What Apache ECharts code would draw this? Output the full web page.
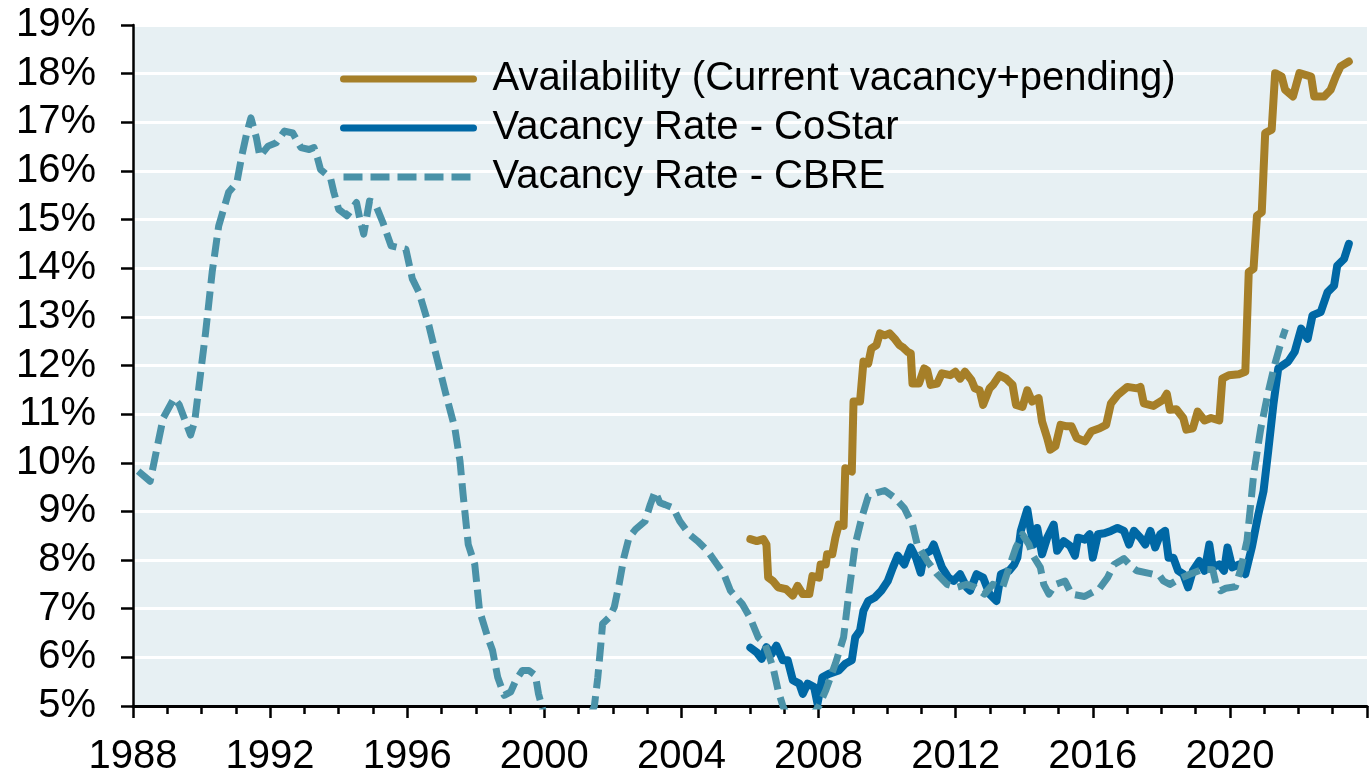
<!DOCTYPE html>
<html>
<head>
<meta charset="utf-8">
<script src="https://cdn.jsdelivr.net/npm/echarts@6/dist/echarts.min.js"></script>
<style>
  html, body { margin: 0; padding: 0; background: #fff; }
  #main { width: 1370px; height: 777px; }
</style>
</head>
<body>
<div id="main"></div>
<script>
// 数据 (读图估计, 年份为小数年)
const availYears = [2006.01, 2006.2, 2006.39, 2006.48, 2006.53, 2006.67, 2006.82, 2007.06, 2007.25, 2007.39, 2007.54, 2007.73, 2007.82, 2008.01, 2008.06, 2008.21, 2008.25, 2008.4, 2008.49, 2008.59, 2008.73, 2008.78, 2008.97, 2009.02, 2009.21, 2009.31, 2009.45, 2009.54, 2009.69, 2009.79, 2009.93, 2010.07, 2010.22, 2010.36, 2010.45, 2010.6, 2010.69, 2010.74, 2010.93, 2011.08, 2011.17, 2011.27, 2011.46, 2011.6, 2011.84, 2011.99, 2012.13, 2012.27, 2012.46, 2012.56, 2012.7, 2012.8, 2012.99, 2013.09, 2013.28, 2013.47, 2013.66, 2013.76, 2013.95, 2014.09, 2014.23, 2014.42, 2014.52, 2014.67, 2014.76, 2014.91, 2015.06, 2015.24, 2015.38, 2015.53, 2015.77, 2015.96, 2016.2, 2016.39, 2016.53, 2016.72, 2017.01, 2017.29, 2017.39, 2017.49, 2017.77, 2018.06, 2018.16, 2018.25, 2018.44, 2018.64, 2018.73, 2018.92, 2019.06, 2019.26, 2019.45, 2019.69, 2019.78, 2019.97, 2020.26, 2020.45, 2020.55, 2020.69, 2020.79, 2020.93, 2021.03, 2021.22, 2021.32, 2021.51, 2021.61, 2021.84, 2022.03, 2022.37, 2022.46, 2022.75, 2022.94, 2023.09, 2023.23, 2023.47]
const availRates = [8.43, 8.39, 8.43, 8.32, 7.64, 7.57, 7.44, 7.4, 7.27, 7.47, 7.3, 7.3, 7.67, 7.64, 7.91, 7.91, 8.12, 8.12, 8.46, 8.73, 8.7, 9.89, 9.82, 11.26, 11.26, 12.08, 12.04, 12.35, 12.42, 12.66, 12.62, 12.66, 12.55, 12.42, 12.38, 12.28, 12.25, 11.63, 11.63, 11.94, 11.9, 11.6, 11.63, 11.84, 11.8, 11.87, 11.73, 11.87, 11.7, 11.53, 11.49, 11.19, 11.53, 11.6, 11.8, 11.73, 11.6, 11.19, 11.15, 11.49, 11.26, 11.33, 10.85, 10.51, 10.27, 10.34, 10.78, 10.75, 10.75, 10.51, 10.44, 10.65, 10.71, 10.78, 11.22, 11.39, 11.56, 11.53, 11.56, 11.22, 11.17, 11.3, 11.42, 11.09, 11.1, 10.92, 10.68, 10.71, 11.05, 10.87, 10.92, 10.87, 11.73, 11.8, 11.82, 11.87, 13.92, 13.99, 15.08, 15.15, 16.78, 16.85, 18.01, 17.94, 17.67, 17.53, 18.01, 17.94, 17.53, 17.53, 17.67, 17.94, 18.15, 18.25]

const costarYears = [2006.01, 2006.2, 2006.34, 2006.48, 2006.63, 2006.77, 2006.96, 2007.1, 2007.25, 2007.44, 2007.54, 2007.68, 2007.87, 2007.97, 2008.11, 2008.3, 2008.59, 2008.78, 2008.97, 2009.07, 2009.21, 2009.31, 2009.45, 2009.64, 2009.83, 2010.02, 2010.17, 2010.31, 2010.5, 2010.69, 2010.84, 2010.98, 2011.08, 2011.27, 2011.36, 2011.46, 2011.6, 2011.79, 2011.94, 2012.13, 2012.32, 2012.42, 2012.61, 2012.8, 2012.99, 2013.19, 2013.32, 2013.56, 2013.71, 2013.8, 2013.9, 2014.09, 2014.19, 2014.28, 2014.38, 2014.52, 2014.67, 2014.86, 2014.96, 2015.15, 2015.34, 2015.48, 2015.57, 2015.77, 2015.91, 2016.0, 2016.15, 2016.34, 2016.53, 2016.72, 2016.91, 2017.06, 2017.2, 2017.39, 2017.53, 2017.68, 2017.82, 2017.97, 2018.11, 2018.21, 2018.35, 2018.49, 2018.64, 2018.78, 2018.92, 2019.11, 2019.26, 2019.4, 2019.5, 2019.69, 2019.83, 2019.93, 2020.07, 2020.27, 2020.45, 2020.64, 2020.83, 2020.98, 2021.12, 2021.27, 2021.41, 2021.7, 2021.89, 2022.08, 2022.27, 2022.41, 2022.65, 2022.85, 2023.04, 2023.13, 2023.33, 2023.47]
const costarRates = [6.2, 6.1, 5.97, 6.21, 6.07, 6.24, 5.94, 5.94, 5.53, 5.46, 5.25, 5.46, 5.39, 5.05, 5.59, 5.66, 5.73, 5.87, 5.94, 6.41, 6.55, 6.96, 7.16, 7.23, 7.37, 7.57, 7.85, 8.09, 7.91, 8.26, 8.05, 7.74, 8.12, 8.19, 8.32, 8.12, 7.85, 7.64, 7.57, 7.71, 7.44, 7.37, 7.71, 7.64, 7.3, 7.16, 7.71, 7.78, 7.91, 8.05, 8.6, 9.04, 8.6, 8.32, 8.66, 8.12, 8.46, 8.73, 8.19, 8.39, 8.29, 8.09, 8.46, 8.42, 8.53, 8.05, 8.53, 8.55, 8.6, 8.66, 8.6, 8.32, 8.6, 8.46, 8.32, 8.6, 8.26, 8.53, 8.6, 8.05, 8.05, 7.78, 7.71, 7.44, 7.78, 7.98, 7.78, 8.32, 7.85, 7.91, 7.78, 8.26, 7.85, 7.91, 7.71, 8.26, 8.94, 9.41, 10.25, 11.2, 11.94, 12.08, 12.28, 12.76, 12.55, 13.03, 13.1, 13.51, 13.64, 14.05, 14.19, 14.5]

const cbreYears = [1988.15, 1988.5, 1988.6, 1988.88, 1989.2, 1989.35, 1989.68, 1989.8, 1989.93, 1990.12, 1990.31, 1990.5, 1990.79, 1991.03, 1991.17, 1991.32, 1991.44, 1991.6, 1991.7, 1991.94, 1992.18, 1992.42, 1992.66, 1992.9, 1993.14, 1993.28, 1993.38, 1993.47, 1993.76, 1993.86, 1994.0, 1994.24, 1994.52, 1994.62, 1994.73, 1994.9, 1995.05, 1995.29, 1995.53, 1995.96, 1996.15, 1996.34, 1996.63, 1996.82, 1997.11, 1997.39, 1997.54, 1997.63, 1997.78, 1997.97, 1998.11, 1998.35, 1998.49, 1998.64, 1998.83, 1999.02, 1999.17, 1999.36, 1999.55, 1999.74, 1999.83, 2000.0, 2000.3, 2000.6, 2000.9, 2001.2, 2001.46, 2001.56, 2001.65, 2001.7, 2001.89, 2002.04, 2002.18, 2002.32, 2002.47, 2002.66, 2002.94, 2003.09, 2003.23, 2003.37, 2003.52, 2003.76, 2003.95, 2004.23, 2004.47, 2004.76, 2005.0, 2005.24, 2005.43, 2005.77, 2006.0, 2006.24, 2006.43, 2006.67, 2006.82, 2006.96, 2007.2, 2007.5, 2007.8, 2008.01, 2008.21, 2008.49, 2008.73, 2008.88, 2009.07, 2009.26, 2009.45, 2009.69, 2009.93, 2010.22, 2010.5, 2010.74, 2010.88, 2011.17, 2011.46, 2011.75, 2012.03, 2012.32, 2012.56, 2012.84, 2013.08, 2013.37, 2013.56, 2013.76, 2013.95, 2014.14, 2014.23, 2014.47, 2014.57, 2014.72, 2014.91, 2015.19, 2015.38, 2015.76, 2016.2, 2016.43, 2016.62, 2016.91, 2017.15, 2017.29, 2017.68, 2017.96, 2018.06, 2018.25, 2018.54, 2018.83, 2019.21, 2019.5, 2019.6, 2019.73, 2019.88, 2020.16, 2020.31, 2020.5, 2020.7, 2020.9, 2021.1, 2021.3, 2021.5, 2021.62]
const cbreRates = [9.83, 9.62, 9.96, 10.92, 11.33, 11.19, 10.57, 10.85, 11.6, 12.69, 13.92, 14.87, 15.56, 15.76, 16.3, 16.78, 17.09, 16.68, 16.3, 16.51, 16.58, 16.82, 16.78, 16.48, 16.44, 16.48, 16.27, 16.03, 15.86, 15.56, 15.21, 15.08, 15.35, 15.01, 14.7, 15.38, 15.35, 14.94, 14.46, 14.39, 13.78, 13.51, 12.83, 12.28, 11.46, 10.71, 10.03, 9.35, 8.32, 7.91, 6.96, 6.41, 6.14, 5.59, 5.22, 5.29, 5.53, 5.73, 5.73, 5.63, 5.25, 4.8, 4.5, 4.3, 4.3, 4.55, 5.0, 5.59, 6.28, 6.69, 6.82, 7.03, 7.5, 8.05, 8.46, 8.63, 8.8, 9.14, 9.41, 9.18, 9.14, 9.07, 8.8, 8.53, 8.39, 8.19, 7.95, 7.71, 7.37, 7.1, 6.82, 6.41, 6.28, 5.8, 5.32, 5.0, 4.6, 4.5, 4.8, 5.0, 5.32, 5.87, 6.41, 7.3, 8.32, 8.87, 9.31, 9.38, 9.43, 9.28, 9.07, 8.73, 8.32, 7.98, 7.71, 7.5, 7.44, 7.5, 7.44, 7.3, 7.5, 7.44, 7.85, 8.26, 8.53, 8.32, 8.12, 7.85, 7.5, 7.3, 7.5, 7.57, 7.3, 7.25, 7.42, 7.64, 7.91, 8.03, 7.85, 7.78, 7.72, 7.67, 7.57, 7.5, 7.62, 7.71, 7.81, 7.8, 7.5, 7.37, 7.42, 7.45, 7.8, 8.4, 9.8, 10.7, 11.4, 12.0, 12.5, 12.75]

// y轴刻度
const yTicks = [5, 6, 7, 8, 9, 10, 11, 12, 13, 14, 15, 16, 17, 18, 19]
// x轴标注年份
const xLabelYears = [1988, 1992, 1996, 2000, 2004, 2008, 2012, 2016, 2020]

const zip = (xs, ys) => xs.map((x, i) => [x, ys[i]])

const font = 'Liberation Sans, Arial, sans-serif'

var myChart = echarts.init(document.querySelector('#main'))

option = {
  animation: false,
  backgroundColor: '#ffffff',
  grid: {
    left: 133,
    top: 25,
    // 右侧多出半年, 让 2024 落在画布外
    right: -17.4,
    bottom: 68,
    show: true,
    backgroundColor: '#e7f0f3',
    borderWidth: 0
  },
  legend: {
    orient: 'vertical',
    left: 340,
    top: 59,
    padding: 0,
    itemWidth: 130,
    itemHeight: 20,
    itemGap: 9,
    // 图例只画线, 把中间的圆点藏起来
    itemStyle: { color: 'rgba(0,0,0,0)', borderWidth: 0, opacity: 0 },
    lineStyle: { width: 7 },
    textStyle: {
      fontFamily: font,
      fontSize: 40,
      lineHeight: 40,
      color: '#000',
      padding: [0, 0, 0, 14]
    }
  },
  xAxis: {
    type: 'value',
    min: 1988,
    max: 2024,
    interval: 4,
    axisLine: { lineStyle: { color: '#000', width: 3 } },
    axisTick: { length: 12, lineStyle: { color: '#000', width: 2.5 } },
    minorTick: { show: true, splitNumber: 4, length: 8, lineStyle: { color: '#000', width: 2.5 } },
    splitLine: { show: false },
    axisLabel: {
      margin: 31,
      fontFamily: font,
      fontSize: 40,
      color: '#000',
      formatter: v => (xLabelYears.indexOf(v) >= 0 ? String(v) : '')
    }
  },
  yAxis: {
    type: 'value',
    min: yTicks[0],
    max: yTicks[yTicks.length - 1],
    interval: 1,
    axisLine: { show: true, lineStyle: { color: '#000', width: 2.5 } },
    axisTick: { show: true, length: 12, lineStyle: { color: '#000', width: 2.5 } },
    splitLine: { lineStyle: { color: '#ffffff', width: 3 } },
    axisLabel: {
      margin: 37,
      fontFamily: font,
      fontSize: 40,
      color: '#000',
      formatter: v => v + '%'
    }
  },
  series: [
    {
      name: 'Availability (Current vacancy+pending)',
      type: 'line',
      symbol: 'none',
      data: zip(availYears, availRates),
      lineStyle: { color: '#a67f28', width: 8, cap: 'round', join: 'round' },
      itemStyle: { color: '#a67f28' }
    },
    {
      name: 'Vacancy Rate - CoStar',
      type: 'line',
      symbol: 'none',
      data: zip(costarYears, costarRates),
      lineStyle: { color: '#0068a5', width: 8, cap: 'round', join: 'round' },
      itemStyle: { color: '#0068a5' }
    },
    {
      name: 'Vacancy Rate - CBRE',
      type: 'line',
      symbol: 'none',
      data: zip(cbreYears, cbreRates),
      // 虚线: 平头, 长划短空
      lineStyle: { color: '#4a92a8', width: 7, type: [19, 8], cap: 'butt', join: 'round' },
      itemStyle: { color: '#4a92a8' }
    }
  ]
}

myChart.setOption(option)
</script>
</body>
</html>
